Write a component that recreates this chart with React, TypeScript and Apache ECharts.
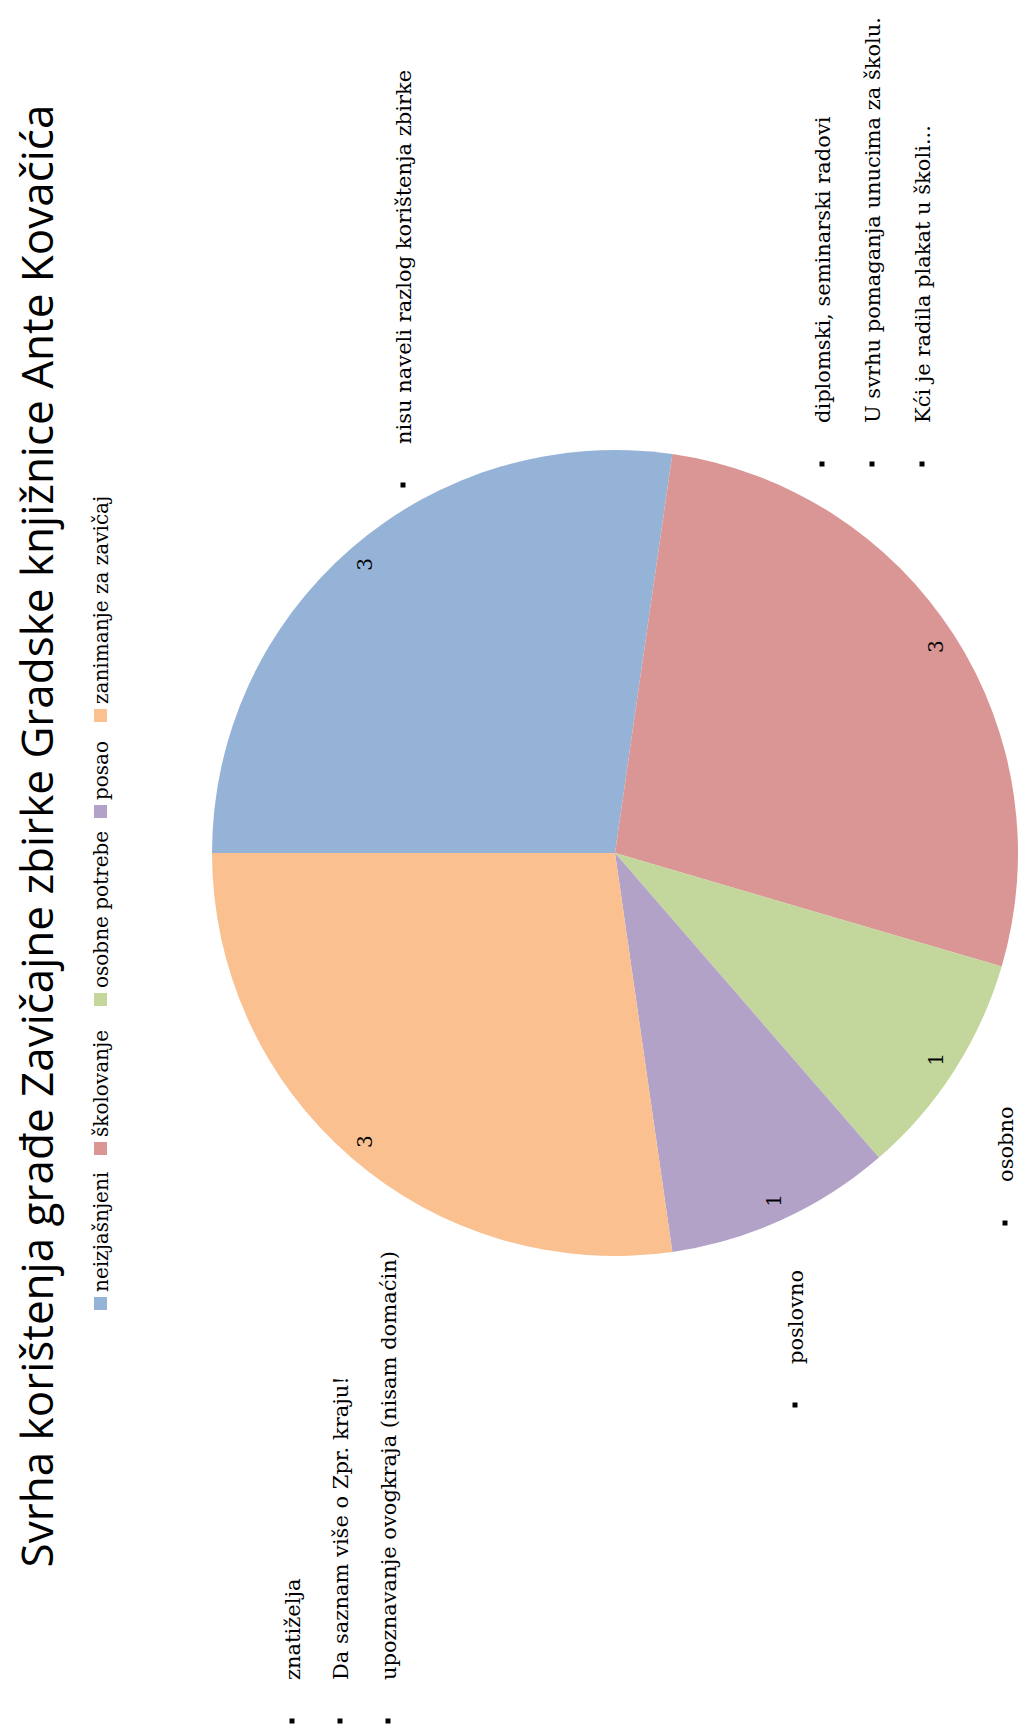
import React, { useEffect, useRef } from "react";
import * as echarts from "echarts";

const titleText = "Svrha korištenja građe Zavičajne zbirke Gradske knjižnice Ante Kovačića";
const categories = ["neizjašnjeni", "školovanje", "osobne potrebe", "posao", "zanimanje za zavičaj"];
const values = [3, 3, 1, 1, 3];
const colors = ["#95B3D7", "#D99694", "#C3D69B", "#B3A2C7", "#FAC090"];

const notesCuriosity = ["znatiželja", "Da saznam više o Zpr. kraju!", "upoznavanje ovogkraja (nisam domaćin)"];
const notesWork = ["poslovno"];
const notesPersonal = ["osobno"];
const notesUnknown = ["nisu naveli razlog korištenja zbirke"];
const notesSchool = ["diplomski, seminarski radovi", "U svrhu pomaganja unucima za školu.", "Kći je radila plakat u školi..."];

// layout (not data)
const W = 1022;
const H = 1731;
const CX = 615;
const CY = 853;
const R = 403;
const legendY = [1303, 1148, 999, 811, 715];
const SERIF = "'DejaVu Serif', 'Liberation Serif', serif";
const FS = 21;
const LEG_FS = 20;

function rotText(text: string, x: number, y: number, size = FS, family = SERIF, align = "left") {
  return {
    type: "text",
    x,
    y,
    rotation: Math.PI / 2,
    silent: true,
    style: { text, fontSize: size, fontFamily: family, fill: "#000", align, verticalAlign: "middle" },
  };
}

function bulletList(lines: string[], x0: number, yBullet: number, dx: number) {
  const els: any[] = [];
  lines.forEach((t, i) => {
    const x = x0 + i * dx;
    els.push({
      type: "rect",
      x: x - 2.5,
      y: yBullet - 2.5,
      silent: true,
      shape: { x: 0, y: 0, width: 5, height: 5 },
      style: { fill: "#000" },
    });
    els.push(rotText(t, x + 1, yBullet - 41));
  });
  return els;
}

export default function App() {
  const ref = useRef<HTMLDivElement>(null);
  useEffect(() => {
    if (!ref.current) return;
    const chart = echarts.init(ref.current, null, { renderer: "svg" });
    const data = categories.map((name, i) => ({ name, value: values[i], itemStyle: { color: colors[i] } }));
    const graphics: any[] = [];
    graphics.push(rotText(titleText, 36, 836, 44, "'Open Sans', sans-serif", "center"));
    categories.forEach((c, i) => {
      graphics.push({
        type: "rect",
        x: 94,
        y: legendY[i] - 6,
        silent: true,
        shape: { x: 0, y: 0, width: 13, height: 13 },
        style: { fill: colors[i] },
      });
      graphics.push(rotText(c, 101, legendY[i] - 11, LEG_FS));
    });
    graphics.push(...bulletList(notesCuriosity, 292, 1721, 48));
    graphics.push(...bulletList(notesWork, 795, 1405, 0));
    graphics.push(...bulletList(notesPersonal, 1005, 1223, 0));
    graphics.push(...bulletList(notesUnknown, 403, 485, 0));
    graphics.push(...bulletList(notesSchool, 822, 464, 50));

    chart.setOption({
      animation: false,
      backgroundColor: "#ffffff",
      graphic: graphics,
      series: [
        {
          type: "pie",
          center: [CX, CY],
          radius: R,
          startAngle: 180,
          clockwise: true,
          silent: true,
          label: { show: false },
          labelLine: { show: false },
          emphasis: { disabled: true },
          itemStyle: { borderWidth: 0 },
          data,
        },
        {
          type: "pie",
          center: [CX, CY],
          radius: [R * 0.88, R],
          startAngle: 180,
          clockwise: true,
          silent: true,
          z: 3,
          emphasis: { disabled: true },
          itemStyle: { color: "rgba(0,0,0,0)", borderWidth: 0 },
          label: {
            show: true,
            position: "inside",
            rotate: 90,
            formatter: "{c}",
            fontSize: LEG_FS,
            fontFamily: SERIF,
            color: "#000",
          },
          labelLine: { show: false },
          data: categories.map((name, i) => ({ name, value: values[i] })),
        },
      ],
    });
    return () => chart.dispose();
  }, []);
  return <div ref={ref} style={{ position: "absolute", left: 0, top: 0, width: W, height: H, background: "#fff" }} />;
}
